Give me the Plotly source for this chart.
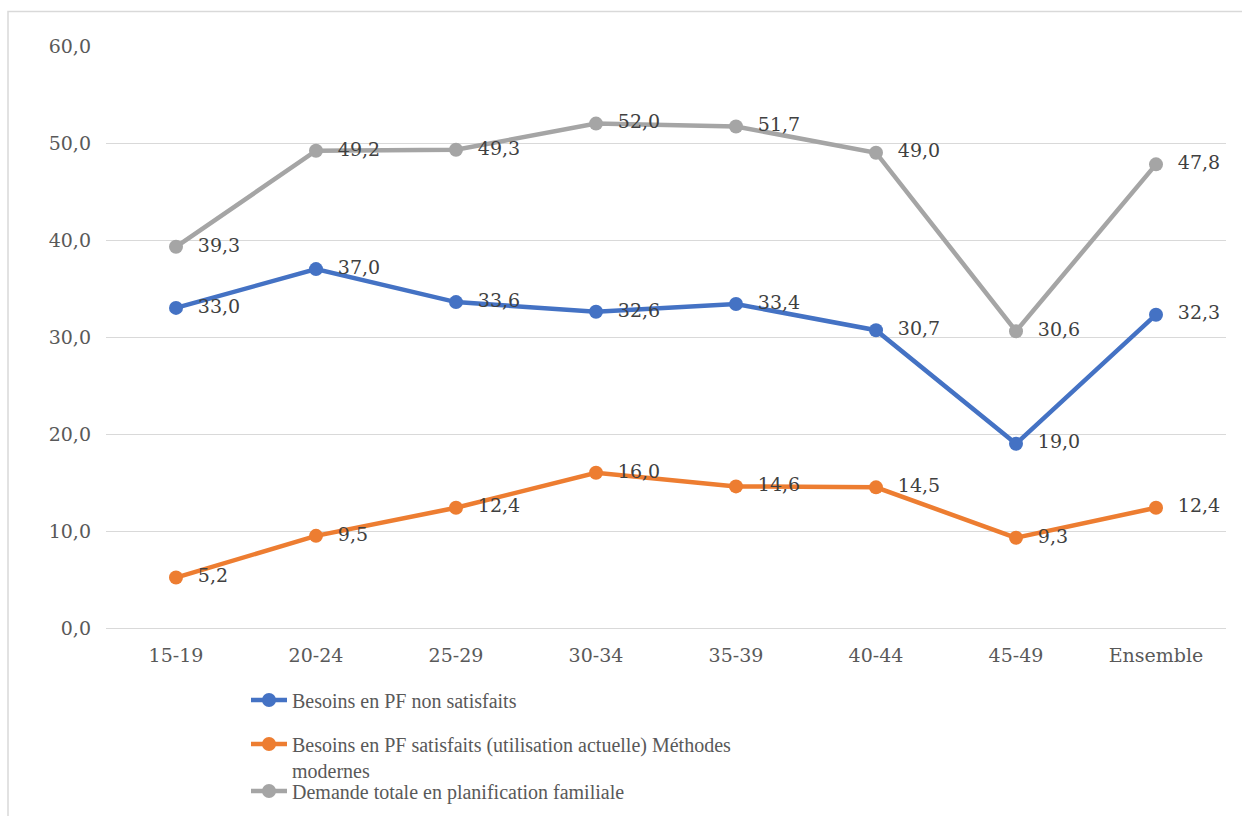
import plotly.graph_objects as go

categories = ["15-19", "20-24", "25-29", "30-34", "35-39", "40-44", "45-49", "Ensemble"]
besoins_non_satisfaits = [33.0, 37.0, 33.6, 32.6, 33.4, 30.7, 19.0, 32.3]
besoins_satisfaits_modernes = [5.2, 9.5, 12.4, 16.0, 14.6, 14.5, 9.3, 12.4]
demande_totale = [39.3, 49.2, 49.3, 52.0, 51.7, 49.0, 30.6, 47.8]
y_ticks = [0, 10, 20, 30, 40, 50, 60]

names = [
    "Besoins en PF non satisfaits",
    "Besoins en PF satisfaits (utilisation actuelle) Méthodes<br>modernes",
    "Demande totale en planification familiale",
]
colors = ["#4472C4", "#ED7D31", "#A5A5A5"]
series = [besoins_non_satisfaits, besoins_satisfaits_modernes, demande_totale]
legends = ["legend", "legend2", "legend3"]

label_font = dict(family="DejaVu Serif", size=19, color="#404040")
tick_font = dict(family="DejaVu Serif", size=19, color="#595959")
legend_font = dict(family="Liberation Serif", size=20, color="#595959")

fig = go.Figure()
for name, color, values, lg in zip(names, colors, series, legends):
    fig.add_trace(go.Scatter(
        x=categories, y=values, name=name, legend=lg,
        mode="lines+markers+text",
        line=dict(color=color, width=4.5),
        marker=dict(color=color, size=14),
        texttemplate="\u00a0\u00a0%{y:.1f}",
        textposition="middle right",
        textfont=label_font,
        cliponaxis=False,
        hoverinfo="skip",
    ))

# paper coordinates for a pixel position: plot area spans x 106..1226, y 46..628
def px(p):
    return (p - 106) / 1120


def py(p):
    return (628 - p) / 582


legend_common = dict(
    x=px(246), xanchor="left", yanchor="middle",
    font=legend_font, bgcolor="rgba(0,0,0,0)", valign="top",
    itemwidth=36, tracegroupgap=0,
)

fig.update_layout(
    width=1242, height=816,
    margin=dict(l=106, r=16, t=46, b=188, autoexpand=False),
    paper_bgcolor="white", plot_bgcolor="white",
    separators=", ",
    showlegend=True,
    legend=dict(y=py(700), **legend_common),
    legend2=dict(y=py(757), **legend_common),
    legend3=dict(y=py(791), **legend_common),
    xaxis=dict(
        type="category", range=[-0.5, len(categories) - 0.5],
        showgrid=False, showline=True, linecolor="#D9D9D9", linewidth=1,
        ticks="", tickfont=tick_font, ticklabelstandoff=10,
        fixedrange=True,
    ),
    yaxis=dict(
        range=[0, 60], tickvals=y_ticks, tickformat=".1f",
        showgrid=True, gridcolor="#D9D9D9", gridwidth=1,
        zeroline=False, showline=False, ticks="",
        tickfont=tick_font, ticklabelstandoff=14,
        fixedrange=True,
    ),
    shapes=[dict(
        type="rect", xref="paper", yref="paper",
        x0=px(8), x1=px(1260),
        y0=py(840), y1=py(11.5),
        line=dict(color="#D9D9D9", width=1.5), fillcolor="rgba(0,0,0,0)",
        layer="below",
    )],
)

fig.write_html("out.html")
